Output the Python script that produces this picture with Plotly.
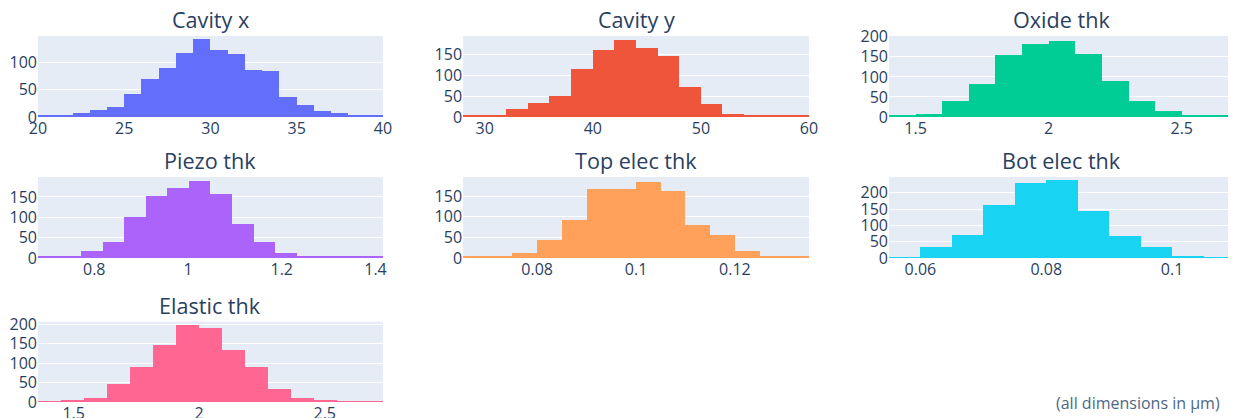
import plotly.graph_objects as go

# ---------------- data (bin start, bin width, counts per bin) ----------------
titles = ["Cavity x", "Cavity y", "Oxide thk", "Piezo thk", "Top elec thk", "Bot elec thk", "Elastic thk"]

cavity_x_start, cavity_x_width = 20.0, 1.0
cavity_x_counts = [3, 3, 8, 13, 18, 42, 69, 91, 117, 143, 124, 116, 86, 84, 36, 22, 11, 8, 3, 2]

cavity_y_start, cavity_y_width = 28.0, 2.0
cavity_y_counts = [4, 4, 18, 34, 50, 116, 160, 185, 165, 145, 73, 30, 6, 3, 3, 3]

oxide_start, oxide_width = 1.4, 0.1
oxide_counts = [3, 7, 41, 83, 154, 183, 190, 157, 91, 41, 15, 4, 3]

piezo_start, piezo_width = 0.68, 0.046
piezo_counts = [4, 4, 17, 40, 102, 152, 171, 190, 158, 83, 40, 12, 5, 4, 4, 4]

top_elec_start, top_elec_width = 0.065, 0.005
top_elec_counts = [4, 5, 12, 43, 92, 166, 166, 185, 162, 79, 55, 16, 5, 4]

bot_elec_start, bot_elec_width = 0.055, 0.005
bot_elec_counts = [4, 34, 72, 163, 229, 240, 145, 66, 34, 5, 4]

elastic_start, elastic_width = 1.358, 0.0916
elastic_counts = [4, 5, 10, 48, 91, 148, 198, 191, 135, 91, 35, 10, 5, 4, 4]

x_dticks = [5, 10, 0.5, 0.2, 0.02, 0.02, 0.5]
y_tops = [149, 194, 202, 199, 196, 248, 207]
note_text = "(all dimensions in μm)"

panels = [
    (cavity_x_start, cavity_x_width, cavity_x_counts),
    (cavity_y_start, cavity_y_width, cavity_y_counts),
    (oxide_start, oxide_width, oxide_counts),
    (piezo_start, piezo_width, piezo_counts),
    (top_elec_start, top_elec_width, top_elec_counts),
    (bot_elec_start, bot_elec_width, bot_elec_counts),
    (elastic_start, elastic_width, elastic_counts),
]
colors = ["#636EFA", "#EF553B", "#00CC96", "#AB63FA", "#FFA15A", "#19D3F3", "#FF6692"]

# ---------------- layout geometry (page body adds 8px offset) ----------------
W, H = 1228, 410
ML, MR, MT, MB = 30, 1, 28, 16
col_dom = [[0.0, 0.2882], [0.3551, 0.6441], [0.7109, 1.0]]
row_dom = [[0.7787, 1.0], [0.3934, 0.6148], [0.0, 0.2194]]

FONT = "Open Sans, verdana, arial, sans-serif"
TXT = "#2a3f5f"

fig = go.Figure()
annotations = []
for i, (start, width, counts) in enumerate(panels):
    r, c = divmod(i, 3)
    n = len(counts)
    centers = [start + width * (k + 0.5) for k in range(n)]
    xa = f"x{i + 1}" if i else "x"
    ya = f"y{i + 1}" if i else "y"
    fig.add_trace(go.Bar(
        x=centers, y=counts, width=[width] * n,
        marker=dict(color=colors[i], line=dict(width=0)),
        xaxis=xa, yaxis=ya, showlegend=False,
    ))
    key = "" if i == 0 else str(i + 1)
    fig.update_layout(**{
        f"xaxis{key}": dict(
            domain=col_dom[c], anchor=ya, range=[start, start + width * n],
            dtick=x_dticks[i], tick0=0, showgrid=False, zeroline=False,
            tickfont=dict(size=16, color=TXT, family=FONT), automargin=False,
        ),
        f"yaxis{key}": dict(
            domain=row_dom[r], anchor=xa, dtick=50, tick0=0, range=[0, y_tops[i]],
            gridcolor="white", gridwidth=1.3, zeroline=False,
            tickfont=dict(size=16, color=TXT, family=FONT), automargin=False,
        ),
    })
    annotations.append(dict(
        text=titles[i], x=sum(col_dom[c]) / 2, y=row_dom[r][1],
        xref="paper", yref="paper", xanchor="center", yanchor="bottom",
        showarrow=False, font=dict(size=21.6, color=TXT, family=FONT),
    ))

annotations.append(dict(
    text=note_text, x=0.989, y=-0.003, xref="paper", yref="paper",
    xanchor="right", yanchor="middle", showarrow=False,
    font=dict(size=16, color="#506784", family=FONT),
))

fig.update_layout(
    width=W, height=H,
    margin=dict(l=ML, r=MR, t=MT, b=MB),
    plot_bgcolor="#E5ECF6", paper_bgcolor="white",
    bargap=0, annotations=annotations,
    font=dict(family=FONT, color=TXT),
)

fig.write_html("out.html")
